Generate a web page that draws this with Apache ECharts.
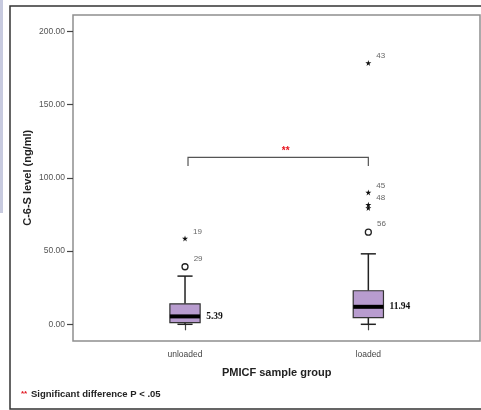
<!DOCTYPE html>
<html>
<head>
<meta charset="utf-8">
<script src="https://cdn.jsdelivr.net/npm/echarts@6/dist/echarts.min.js"></script>
<style>
  html, body { margin: 0; padding: 0; background: #fff; }
  #main { width: 481px; height: 410px; }
</style>
</head>
<body>
<div id="main"></div>
<script>
// groups
var categories = ['unloaded', 'loaded'];
// box stats
var whiskerLow = [0, 0];
var q1 = [1.1, 4.5];
var median = [5.39, 11.94];
var q3 = [14.0, 22.9];
var whiskerHigh = [32.9, 48.1];
// outliers: [group index, value, case label]
var circleOutliers = [[0, 39.3, '29'], [1, 62.9, '56']];
var starOutliers = [[0, 58.6, '19'], [1, 178.4, '43'], [1, 90.0, '45'], [1, 81.6, '48'], [1, 79.4, '']];
// significance bracket: [from group, to group, top, bottom of legs]
var bracket = [[0, 1, 114, 108]];
var yTicks = [0, 50, 100, 150, 200];

var boxData = categories.map(function (c, i) {
  return [i, whiskerLow[i], q1[i], median[i], q3[i], whiskerHigh[i]];
});

var starPath = 'path://M50,0 L61,35 L98,35 L68,57 L79,91 L50,70 L21,91 L32,57 L2,35 L39,35 Z';

var myChart = echarts.init(document.getElementById('main'));
myChart.setOption({
  animation: false,
  textStyle: { fontFamily: 'Liberation Sans, Arial, sans-serif' },
  graphic: [
    { type: 'rect', shape: { x: 0, y: 0, width: 3, height: 213 }, style: { fill: '#c7cadf' }, silent: true },
    { type: 'rect', shape: { x: 10, y: 6, width: 480, height: 403 }, style: { fill: null, stroke: '#333', lineWidth: 1.5 }, silent: true },
    { type: 'text', left: 21, top: 390, style: { text: '**', fill: '#e0141e', font: 'bold 8px Liberation Sans' } },
    { type: 'text', left: 31, top: 389, style: { text: 'Significant difference P < .05', fill: '#222', font: 'bold 9.5px Liberation Sans' } }
  ],
  grid: [
    // frame
    { left: 73, right: 1, top: 15, bottom: 69, show: true, borderColor: '#8f8f8f', borderWidth: 1.5, backgroundColor: 'transparent' },
    // data area (0 .. 200)
    { left: 93.35, right: 21, top: 31.3, bottom: 85.7 }
  ],
  xAxis: [
    { gridIndex: 0, type: 'value', show: false, min: 0, max: 1 },
    {
      gridIndex: 1, type: 'category', data: categories, offset: 16.7,
      axisLine: { show: false },
      axisTick: { show: true, alignWithLabel: true, length: 6, lineStyle: { color: '#444', width: 1.2 } },
      axisLabel: { margin: 9, fontSize: 8.5, color: '#444' },
      name: 'PMICF sample group', nameLocation: 'middle', nameGap: 26, nameMoveOverlap: false,
      nameTextStyle: { fontSize: 11, fontWeight: 'bold', color: '#222' }
    }
  ],
  yAxis: [
    { gridIndex: 0, type: 'value', show: false, min: 0, max: 1 },
    {
      gridIndex: 1, type: 'value', min: yTicks[0], max: yTicks[yTicks.length - 1], interval: 50, offset: 20.35,
      axisLine: { show: false },
      axisTick: { show: true, length: 6, lineStyle: { color: '#444', width: 1.2 } },
      splitLine: { show: false },
      axisLabel: { margin: 8, fontSize: 8.5, color: '#555', formatter: function (v) { return v.toFixed(2); } },
      name: 'C-6-S level (ng/ml)', nameLocation: 'middle', nameGap: 40, nameMoveOverlap: false,
      nameTextStyle: { fontSize: 11, fontWeight: 'bold', color: '#222' }
    }
  ],
  series: [
    {
      type: 'custom', xAxisIndex: 1, yAxisIndex: 1,
      encode: { x: 0, y: [1, 2, 3, 4, 5] },
      data: boxData,
      renderItem: function (params, api) {
        var x = api.value(0);
        var lo = api.coord([x, api.value(1)]);
        var a = api.coord([x, api.value(2)]);
        var md = api.coord([x, api.value(3)]);
        var b = api.coord([x, api.value(4)]);
        var hi = api.coord([x, api.value(5)]);
        var cx = lo[0];
        var bw = api.size([1, 0])[0] * 0.165;
        var cap = bw * 0.5;
        var ln = { stroke: '#222', lineWidth: 1.5 };
        return {
          type: 'group',
          children: [
            { type: 'line', shape: { x1: cx, y1: hi[1], x2: cx, y2: b[1] }, style: ln },
            { type: 'line', shape: { x1: cx - cap / 2, y1: hi[1], x2: cx + cap / 2, y2: hi[1] }, style: ln },
            { type: 'line', shape: { x1: cx, y1: lo[1], x2: cx, y2: a[1] }, style: ln },
            { type: 'line', shape: { x1: cx - cap / 2, y1: lo[1], x2: cx + cap / 2, y2: lo[1] }, style: ln },
            { type: 'rect', shape: { x: cx - bw / 2, y: b[1], width: bw, height: a[1] - b[1] },
              style: { fill: '#b89ccf', stroke: '#333', lineWidth: 1.2 } },
            { type: 'line', shape: { x1: cx - bw / 2, y1: md[1], x2: cx + bw / 2, y2: md[1] },
              style: { stroke: '#000', lineWidth: 4 } },
            { type: 'text', x: cx + bw / 2 + 6, y: md[1],
              style: { text: median[params.dataIndex].toFixed(2), fill: '#111',
                font: 'bold 9.5px Liberation Serif', verticalAlign: 'middle', align: 'left' } }
          ]
        };
      }
    },
    {
      type: 'custom', xAxisIndex: 1, yAxisIndex: 1,
      encode: { x: [0, 1], y: [2, 3] },
      data: bracket,
      renderItem: function (params, api) {
        var l = api.coord([api.value(0), api.value(2)]);
        var r = api.coord([api.value(1), api.value(2)]);
        var lb = api.coord([api.value(0), api.value(3)]);
        return {
          type: 'group',
          children: [
            { type: 'polyline', shape: { points: [[l[0] + 3, lb[1]], [l[0] + 3, l[1]], [r[0], r[1]], [r[0], lb[1]]] },
              style: { stroke: '#555', lineWidth: 1.2, fill: null } },
            { type: 'text', x: (l[0] + r[0]) / 2 + 9, y: l[1] - 1,
              style: { text: '**', fill: '#e8141e', font: 'bold 10px Liberation Sans', align: 'center', verticalAlign: 'bottom' } }
          ]
        };
      }
    },
    {
      type: 'scatter', xAxisIndex: 1, yAxisIndex: 1,
      data: circleOutliers,
      symbol: 'circle', symbolSize: 6,
      itemStyle: { color: '#fff', borderColor: '#222', borderWidth: 1.3, opacity: 1 },
      label: { show: true, position: 'right', offset: [0, -8], fontSize: 8, color: '#666',
        formatter: function (p) { return p.value[2]; } }
    },
    {
      type: 'scatter', xAxisIndex: 1, yAxisIndex: 1,
      data: starOutliers,
      symbol: starPath, symbolSize: 6,
      itemStyle: { color: '#111', opacity: 1 },
      label: { show: true, position: 'right', offset: [0, -7], fontSize: 8, color: '#666',
        formatter: function (p) { return p.value[2]; } }
    }
  ]
});
</script>
</body>
</html>
